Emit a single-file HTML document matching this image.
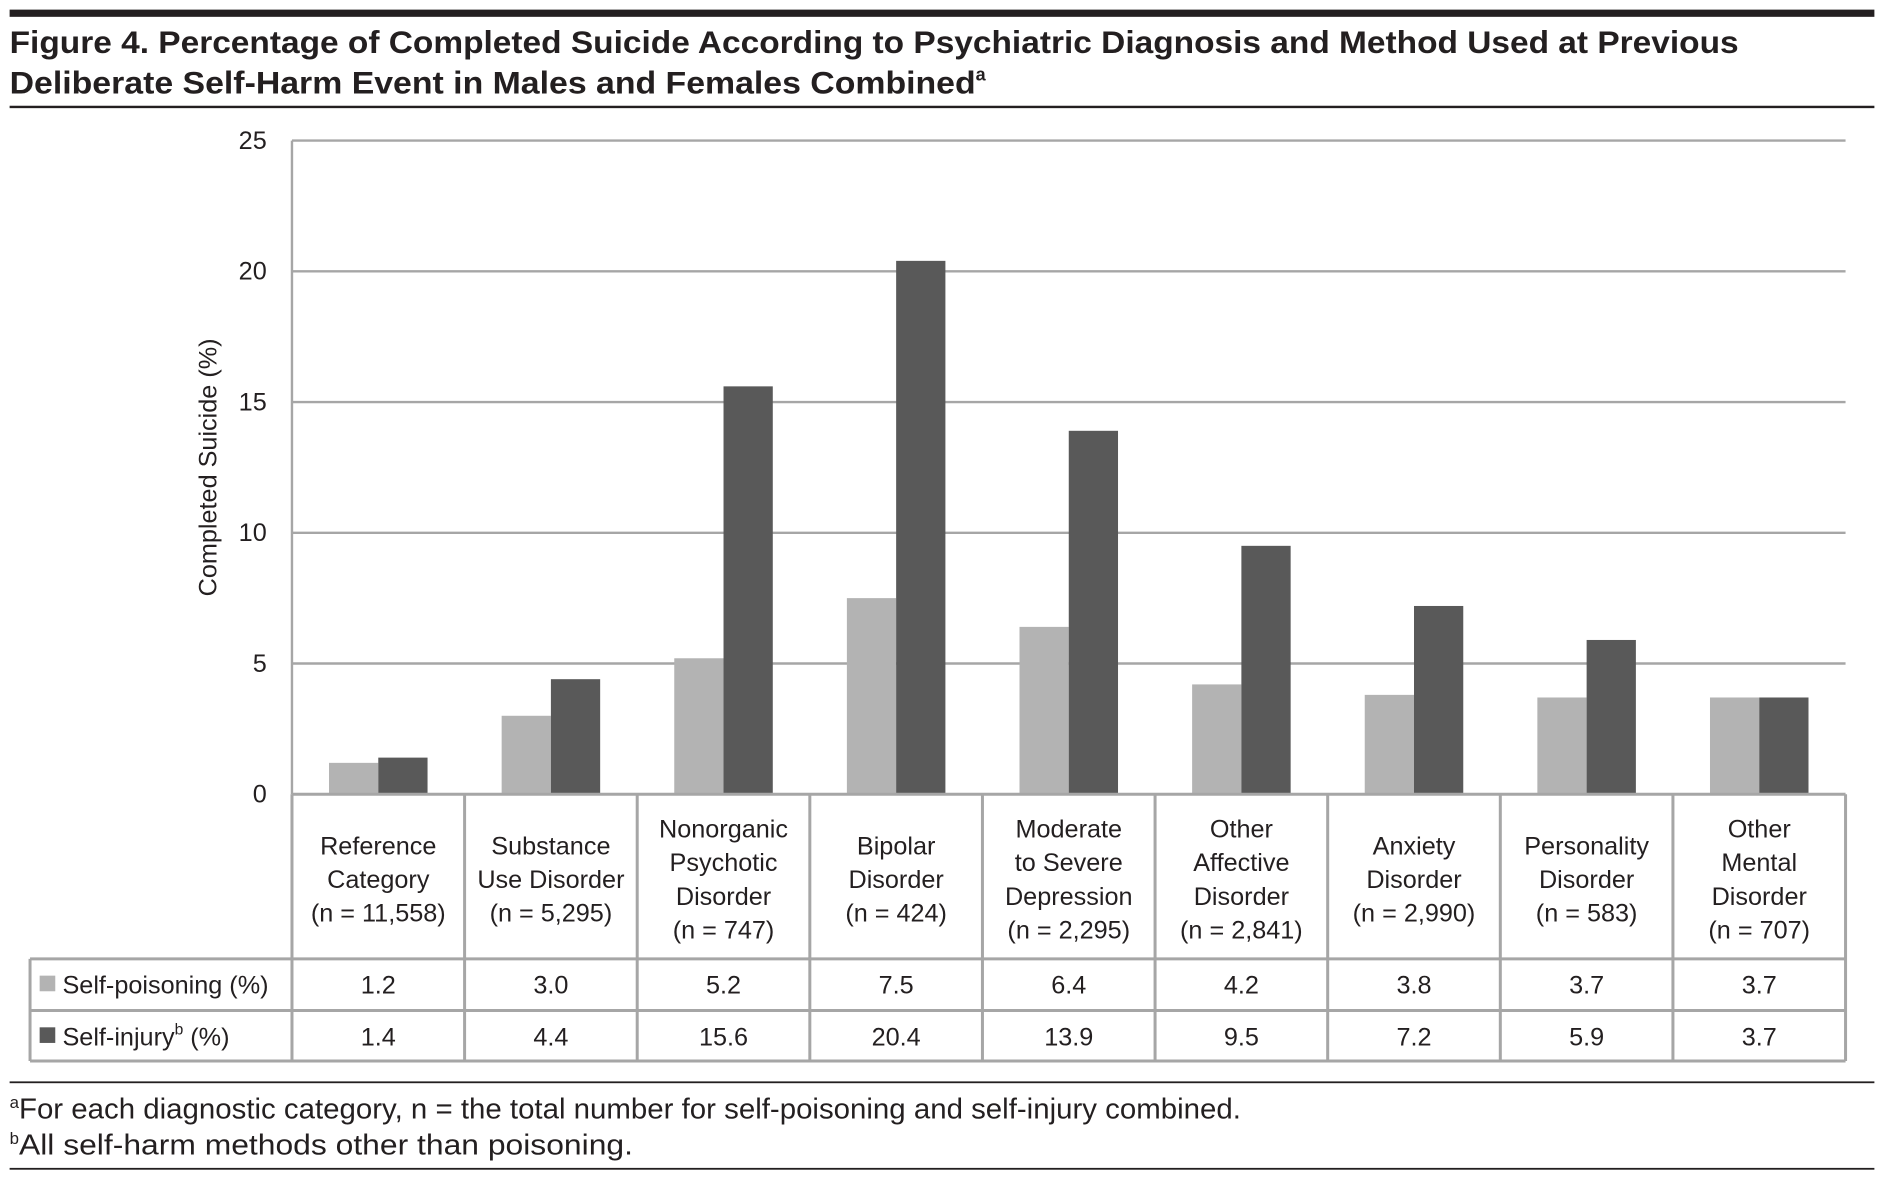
<!DOCTYPE html>
<html><head><meta charset="utf-8"><style>
html,body{margin:0;padding:0;background:#fff;}
svg{display:block;}
text{font-family:"Liberation Sans",sans-serif;fill:#231f20;}
</style></head><body>
<svg id="chart" width="1884" height="1178" viewBox="0 0 1568 980.4" xmlns="http://www.w3.org/2000/svg">
<rect x="8" y="8" width="1552" height="6" fill="#231f20"/>
<text x="8" y="44" font-size="26" font-weight="bold" textLength="1439" lengthAdjust="spacingAndGlyphs">Figure 4. Percentage of Completed Suicide According to Psychiatric Diagnosis and Method Used at Previous</text>
<text x="8" y="78" font-size="26" font-weight="bold"><tspan textLength="804" lengthAdjust="spacingAndGlyphs">Deliberate Self-Harm Event in Males and Females Combined</tspan><tspan font-size="15" dy="-11">a</tspan></text>
<rect x="8" y="88" width="1552" height="2" fill="#231f20"/>
<text transform="translate(180,389) rotate(-90)" text-anchor="middle" font-size="21">Completed Suicide (%)</text>
<g id="grid"></g><g id="bars"></g><g id="table"></g>
<rect x="8" y="900" width="1552" height="1.5" fill="#231f20"/>
<text x="8" y="931" font-size="24"><tspan font-size="14" dy="-9">a</tspan><tspan dy="9" textLength="1017" lengthAdjust="spacingAndGlyphs">For each diagnostic category, n = the total number for self-poisoning and self-injury combined.</tspan></text>
<text x="8" y="961" font-size="24"><tspan font-size="14" dy="-9">b</tspan><tspan dy="9" textLength="511" lengthAdjust="spacingAndGlyphs">All self-harm methods other than poisoning.</tspan></text>
<rect x="8" y="972" width="1552" height="1.5" fill="#231f20"/>
</svg>
<script>
const categories = [
 ["Reference","Category","(n = 11,558)"],
 ["Substance","Use Disorder","(n = 5,295)"],
 ["Nonorganic","Psychotic","Disorder","(n = 747)"],
 ["Bipolar","Disorder","(n = 424)"],
 ["Moderate","to Severe","Depression","(n = 2,295)"],
 ["Other","Affective","Disorder","(n = 2,841)"],
 ["Anxiety","Disorder","(n = 2,990)"],
 ["Personality","Disorder","(n = 583)"],
 ["Other","Mental","Disorder","(n = 707)"]
];
const selfPoisoning = [1.2, 3.0, 5.2, 7.5, 6.4, 4.2, 3.8, 3.7, 3.7];
const selfInjury = [1.4, 4.4, 15.6, 20.4, 13.9, 9.5, 7.2, 5.9, 3.7];
const yTicks = [0, 5, 10, 15, 20, 25];

const NS = "http://www.w3.org/2000/svg";
const X0 = 243, X1 = 1536, Y0 = 661, YTOP = 117, YMAX = 25;
const colW = (X1 - X0) / categories.length;
const yScale = v => Y0 - (v / YMAX) * (Y0 - YTOP);
const xCenter = i => X0 + colW * (i + 0.5);
function mk(tag, attrs, parent){const e=document.createElementNS(NS,tag);for(const k in attrs)e.setAttribute(k,attrs[k]);parent.appendChild(e);return e;}
const grid = document.getElementById('grid'), bars = document.getElementById('bars'), table = document.getElementById('table');
const GREY = "#a6a6a6";
const FS = 21;

yTicks.forEach(t => {
  const y = yScale(t);
  if (t > 0) {
    const l = mk('line',{x1:X0,x2:X1,y1:y,y2:y,stroke:GREY,'stroke-width':2},grid);
    
    
  }
  const tx = mk('text',{x:222,y:y+7,'text-anchor':'end','font-size':FS},grid);
  tx.textContent = t;
  
  
});
const ax = mk('line',{x1:X0,x2:X0,y1:YTOP,y2:Y0,stroke:GREY,'stroke-width':2},grid);



const BW = 41;
categories.forEach((c,i) => {
  const cx = xCenter(i);
  const b1 = mk('rect',{x:cx-BW,y:yScale(selfPoisoning[i]),width:BW,height:Y0-yScale(selfPoisoning[i]),fill:'#b3b3b3'},bars);
  
  
  const b2 = mk('rect',{x:cx,y:yScale(selfInjury[i]),width:BW,height:Y0-yScale(selfInjury[i]),fill:'#595959'},bars);
  
  
});

const R0 = 661, R1 = 798, R2 = 841, R3 = 883, TL = 25;
const lines = [[X0,R0,X1,R0],[X0,R0,X0,R3],[TL,R1,X1,R1],[TL,R2,X1,R2],[TL,R3,X1,R3],[TL,R1,TL,R3]];
for (let i=1;i<=categories.length;i++){ const x = X0+colW*i; lines.push([x,R0,x,R3]); }
lines.forEach((l,k)=>{
  const e = mk('line',{x1:l[0],y1:l[1],x2:l[2],y2:l[3],stroke:GREY,'stroke-width':2.5},table);
  
  
});
categories.forEach((c,i)=>{
  const cx = xCenter(i);
  const lh = 28, mid = 732;
  const start = mid - (c.length-1)*lh/2;
  const t = mk('text',{'text-anchor':'middle','font-size':FS},table);
  
  
  c.forEach((s,j)=>{ const ts = mk('tspan',{x:cx,y:start+j*lh+7},t); ts.textContent=s; });
  const v1 = mk('text',{x:cx,y:R1+29,'text-anchor':'middle','font-size':FS},table);
  v1.textContent = selfPoisoning[i].toFixed(1);
  
  
  const v2 = mk('text',{x:cx,y:R2+29,'text-anchor':'middle','font-size':FS},table);
  v2.textContent = selfInjury[i].toFixed(1);
  
  
});
const s1 = mk('rect',{x:33,y:812,width:13,height:13,fill:'#b3b3b3'},table);


const s2 = mk('rect',{x:33,y:855,width:13,height:13,fill:'#595959'},table);


const l1 = mk('text',{x:52,y:R1+29,'font-size':FS},table);
l1.textContent = 'Self-poisoning (%)';


const l2 = mk('text',{x:52,y:R2+29,'font-size':FS},table);


const a = mk('tspan',{},l2); a.textContent='Self-injury';
const b = mk('tspan',{'font-size':13,dy:-9},l2); b.textContent='b';
const c = mk('tspan',{dy:9},l2); c.textContent=' (%)';
</script>
</body></html>
